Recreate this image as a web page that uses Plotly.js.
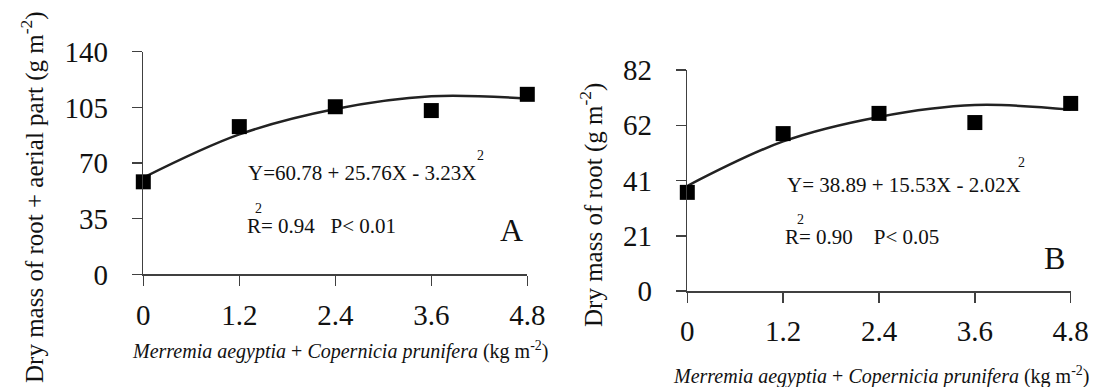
<!DOCTYPE html>
<html>
<head>
<meta charset="utf-8">
<script src="https://cdn.plot.ly/plotly-3.0.1.min.js"></script>
<style>html,body{margin:0;padding:0;background:#fff;}#chart{width:1097px;height:387px;}</style>
</head>
<body>
<div id="chart"></div>
<script>
// ---- data ----
const doses = [0, 1.2, 2.4, 3.6, 4.8];
const doseLabels = ['0', '1.2', '2.4', '3.6', '4.8'];

// Panel A: dry mass of root + aerial part (g m-2)
const obsA = [58.2, 92.9, 105.4, 103.0, 113.2];
const fitA = [60.8, 88.0, 104.0, 112.0, 110.5];
const yTicksA = [0, 35, 70, 105, 140];
const yTickTextA = ['0', '35', '70', '105', '140'];

// Panel B: dry mass of root (g m-2)
const obsB = [36.6, 58.4, 65.9, 62.5, 69.6];
const fitB = [39.0, 55.5, 64.6, 69.0, 67.3];
const yTicksB = [0, 20.5, 41, 61.5, 82];
const yTickTextB = ['0', '21', '41', '62', '82'];

const eqA = 'Y=60.78 + 25.76X - 3.23X';
const statA = 'R= 0.94   P< 0.01';
const eqB = 'Y= 38.89 + 15.53X - 2.02X';
const statB = 'R= 0.90    P< 0.05';

// ---- layout helpers ----
const W = 1097, H = 387;
const px = x => x / W;
const py = y => 1 - y / H;
const SERIF = 'Liberation Serif';
const AX = '#404040';

function xax(l, r, anchor) {
  return {
    domain: [px(l), px(r)], range: [0, 4.8], anchor: anchor,
    tickvals: doses, ticktext: doseLabels, ticks: 'outside', ticklen: 10, tickwidth: 1.5,
    tickcolor: AX, showline: true, linecolor: AX, linewidth: 1.5,
    showgrid: false, zeroline: false, fixedrange: true,
    tickfont: {family: SERIF, size: 29, color: '#111'}, ticklabelstandoff: 4
  };
}
function yax(b, t, range, vals, text, anchor) {
  return {
    domain: [py(b), py(t)], range: range, anchor: anchor,
    tickvals: vals, ticktext: text, ticks: 'outside', ticklen: 10, tickwidth: 1.5,
    tickcolor: AX, showline: true, linecolor: AX, linewidth: 1.5,
    showgrid: false, zeroline: false, fixedrange: true,
    tickfont: {family: SERIF, size: 29, color: '#111'}, ticklabelstandoff: 18
  };
}

const markerStyle = {symbol: 'square', size: 15, color: '#000'};
const lineStyle = {color: '#222', width: 2.5, shape: 'spline', smoothing: 1};

const traces = [
  {x: doses, y: fitA, mode: 'lines', line: lineStyle, xaxis: 'x', yaxis: 'y', cliponaxis: false, hoverinfo: 'skip'},
  {x: doses, y: obsA, mode: 'markers', marker: markerStyle, xaxis: 'x', yaxis: 'y', cliponaxis: false},
  {x: doses, y: fitB, mode: 'lines', line: lineStyle, xaxis: 'x2', yaxis: 'y2', cliponaxis: false, hoverinfo: 'skip'},
  {x: doses, y: obsB, mode: 'markers', marker: markerStyle, xaxis: 'x2', yaxis: 'y2', cliponaxis: false}
];

function ann(text, x, y, size, opts) {
  return Object.assign({
    text: text, xref: 'paper', yref: 'paper', x: px(x), y: py(y),
    xanchor: 'center', yanchor: 'middle', showarrow: false,
    font: {family: SERIF, size: size, color: '#111'}
  }, opts || {});
}

const xTitle = '<i>Merremia aegyptia</i> + <i>Copernicia prunifera</i> (kg m<sup>-2</sup>)';

const annotations = [
  // panel A
  ann(eqA, 246, 173, 21, {xanchor: 'left'}),
  ann('2', 481, 155, 14),
  ann(statA, 245, 226, 21, {xanchor: 'left'}),
  ann('2', 258, 208, 14),
  ann('A', 511, 230, 32),
  ann(xTitle, 340, 350, 20),
  ann('Dry mass of root + aerial part (g m<sup>-2</sup>)', 32, 197, 25, {textangle: -90}),
  // panel B
  ann(eqB, 785, 185, 21, {xanchor: 'left'}),
  ann('2', 1021, 163, 14),
  ann(statB, 783, 237, 21, {xanchor: 'left'}),
  ann('2', 800, 219, 14),
  ann('B', 1054, 258, 32),
  ann(xTitle, 881, 375, 20),
  ann('Dry mass of root (g m<sup>-2</sup>)', 591, 205, 25, {textangle: -90})
];

const layout = {
  width: W, height: H,
  margin: {l: 0, r: 0, t: 0, b: 0},
  paper_bgcolor: '#fff', plot_bgcolor: 'rgba(0,0,0,0)',
  font: {family: SERIF},
  showlegend: false,
  xaxis: xax(143.3, 527.3, 'y'),
  yaxis: yax(274.4, 51.7, [0, 140], yTicksA, yTickTextA, 'x'),
  xaxis2: xax(687.3, 1070.7, 'y2'),
  yaxis2: yax(291, 70, [0, 82], yTicksB, yTickTextB, 'x2'),
  annotations: annotations
};

Plotly.newPlot('chart', traces, layout, {displayModeBar: false, staticPlot: true});
</script>
</body>
</html>
